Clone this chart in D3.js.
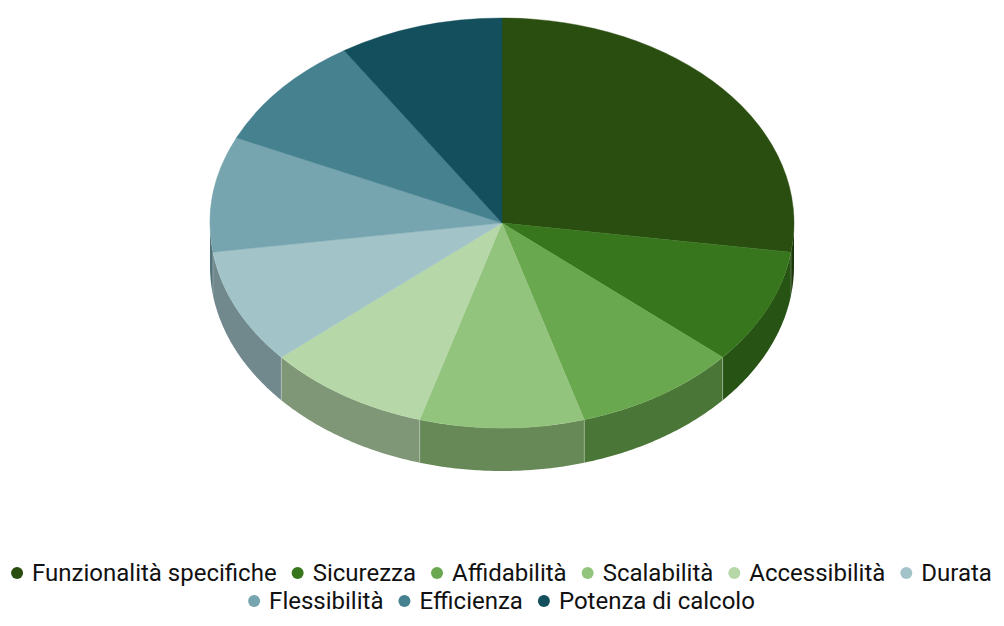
<!DOCTYPE html>
<html><head><meta charset="utf-8">
<script src="https://cdnjs.cloudflare.com/ajax/libs/d3/7.8.5/d3.min.js"></script>
<style>html,body{margin:0;padding:0;background:#fff}svg{display:block}</style>
</head><body><svg id="c" width="1004" height="626"></svg>
<script>
const categories=["Funzionalità specifiche","Sicurezza","Affidabilità","Scalabilità","Accessibilità","Durata","Flessibilità","Efficienza","Potenza di calcolo"];
const values=[30,10,10,10,10,10,10,10,10];
const colors=["#2a4d10","#38761d","#6aa84f","#93c47d","#b6d7a8","#a2c4c9","#76a5af","#45818e","#134f5c"];
const legendRows=[[0,1,2,3,4,5],[6,7,8]];
const W=1004,cx=502,cy=223,rx=292,ry=205,depth=43;
const svg=d3.select("#c");
const arcs=d3.pie().sort(null).value(d=>d)(values);
const px=a=>cx+rx*Math.sin(a), py=a=>cy-ry*Math.cos(a);
const line=d3.line();
const sideColor=i=>i===0?"#1b370b":d3.rgb(colors[i]).darker(1).formatHex();
function wall(a0,a1){
  const n=Math.max(2,Math.ceil((a1-a0)/0.01));
  const t=d3.range(n+1).map(k=>a0+(a1-a0)*k/n);
  const top=t.map(a=>[px(a),py(a)]);
  const bot=t.slice().reverse().map(a=>[px(a),py(a)+depth]);
  return line(top.concat(bot))+"Z";
}
const walls=svg.append("g");
arcs.forEach((d,i)=>{
  const a0=Math.max(d.startAngle,Math.PI/2),a1=Math.min(d.endAngle,Math.PI*1.5);
  if(a1<=a0)return;
  walls.append("path").attr("d",wall(a0,a1)).attr("fill",sideColor(i));
});
arcs.forEach(d=>{
  const a=d.endAngle;
  if(a>Math.PI/2&&a<Math.PI*1.5){
    walls.append("line").attr("x1",px(a)).attr("y1",py(a)).attr("x2",px(a)).attr("y2",py(a)+depth)
      .attr("stroke","#fff").attr("stroke-opacity",.25).attr("stroke-width",1);
  }
});
const arc=d3.arc().innerRadius(0).outerRadius(rx);
const topG=svg.append("g").attr("transform",`translate(${cx},${cy}) scale(1,${ry/rx})`);
topG.selectAll("path").data(arcs).join("path").attr("d",arc).attr("fill",(d,i)=>colors[i])
  .attr("stroke",(d,i)=>colors[i]).attr("stroke-width",.5);
// legend
const leg=svg.append("g").attr("font-family","Roboto").attr("font-size",24).attr("fill","#111");
const rowY=[573,601];
const gap=15;
legendRows.forEach((row,r)=>{
  const g=leg.append("g");
  let x=0;
  row.forEach(i=>{
    g.append("circle").attr("cx",x+6).attr("cy",rowY[r]).attr("r",6).attr("fill",colors[i]);
    const t=g.append("text").attr("x",x+21).attr("y",rowY[r]+8).text(categories[i]);
    x+=21+t.node().getComputedTextLength()+gap;
  });
  g.attr("transform",`translate(${(W-1-(x-gap))/2},0)`);
});
</script></body></html>
